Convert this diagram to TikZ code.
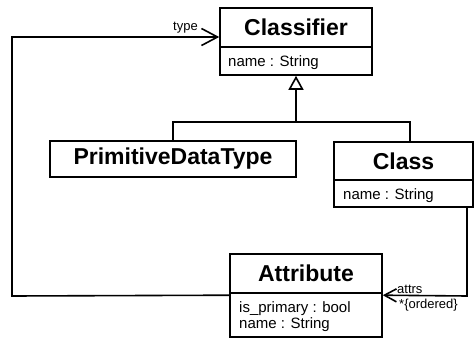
\documentclass[tikz,border=0pt]{standalone}
\usepackage{fontspec}
\setmainfont{Liberation Sans}
\usetikzlibrary{arrows.meta,calc}
\begin{document}
\begin{tikzpicture}[x=1pt,y=-1pt,
  lw/.style={line width=1.6pt},
  comp/.style={lw, draw, rectangle, inner sep=0pt, anchor=center},
  title/.style={font=\fontsize{23}{26}\selectfont\bfseries},
  attrtext/.style={font=\fontsize{15}{16}\selectfont, anchor=base west, inner sep=0pt},
  lbl/.style={font=\fontsize{13}{14}\selectfont, anchor=base west, inner sep=0pt},
  gen/.style={lw},
  inh/.style={lw, -{Triangle[open, length=14pt, width=15pt, line width=1.6pt]}},
  assoc/.style={lw, -{Straight Barb[length=16pt, width=17pt, line width=1.6pt]}},
  assoc2/.style={lw, -{Straight Barb[length=12pt, width=13pt, line width=1.6pt]}}
]
\useasboundingbox (0,0) rectangle (475,338);

% Classifier
\node[comp, title, minimum width=152pt, minimum height=39pt] (clsfT) at (296,27.5) {Classifier};
\node[comp, minimum width=152pt, minimum height=28pt] (clsfA) at (296,61) {};
\node[attrtext] (clsfA1) at (228,66) {name : String};

% PrimitiveDataType
\node[comp, title, minimum width=246pt, minimum height=36pt] (pdt) at (173,159) {PrimitiveDataType};

% Class
\node[comp, title, minimum width=139pt, minimum height=38pt] (clsT) at (403.5,161) {Class};
\node[comp, minimum width=139pt, minimum height=27pt] (clsA) at (403.5,193.5) {};
\node[attrtext] (clsA1) at (343,199) {name : String};

% Attribute
\node[comp, title, minimum width=152pt, minimum height=39pt] (attT) at (306,273.5) {Attribute};
\node[comp, minimum width=152pt, minimum height=44pt] (attA) at (306,315) {};
\node[attrtext] (attA1) at (239,312) {is\_primary : bool};
\node[attrtext] (attA2) at (239,328) {name : String};

% generalization
\coordinate (bus) at (296,122);
\draw[gen] (pdt.north) |- (bus) -| ([xshift=6.5pt]clsT.north);
\draw[inh] (bus) -- (clsfA.south);

% type association
\coordinate (typeL) at (12,296);
\draw[assoc] ([yshift=-3pt]attA.north west) -- (typeL) |- ([yshift=-9.5pt]clsfT.west);
\node[lbl] (typelbl) at (173,30) {type};

% attrs association
\coordinate (attrsR) at (467,296);
\draw[assoc2] (clsA.south -| attrsR) -- (attrsR) -- ([yshift=-3pt]attA.north east);
\node[lbl] (attrslbl) at (397,293) {attrs};
\node[lbl] (ordlbl) at (399,308) {*\{ordered\}};
\end{tikzpicture}
\end{document}
